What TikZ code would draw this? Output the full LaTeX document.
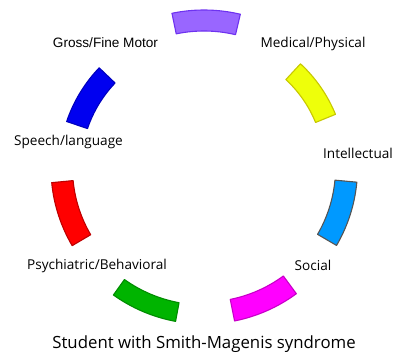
\documentclass[tikz,border=0pt]{standalone}
\usepackage{fontspec}
\setmainfont{Open Sans}
\newfontfamily\arialfont{Liberation Sans}
\usepackage{tikz}
\usetikzlibrary{positioning}
\usepackage{xcolor}
\definecolor{segPurple}{RGB}{153, 102, 255}
\definecolor{segPurpleD}{RGB}{110, 50, 240}
\definecolor{segYellow}{RGB}{238, 255, 10}
\definecolor{segYellowD}{RGB}{200, 200, 0}
\definecolor{segSky}{RGB}{0, 153, 255}
\definecolor{segSkyD}{RGB}{85, 85, 85}
\definecolor{segMagenta}{RGB}{255, 0, 255}
\definecolor{segMagentaD}{RGB}{200, 0, 200}
\definecolor{segGreen}{RGB}{0, 180, 0}
\definecolor{segGreenD}{RGB}{0, 140, 0}
\definecolor{segRed}{RGB}{255, 0, 0}
\definecolor{segRedD}{RGB}{190, 0, 0}
\definecolor{segBlue}{RGB}{0, 0, 240}
\definecolor{segBlueD}{RGB}{0, 0, 190}

\begin{document}
\begin{tikzpicture}[x=1pt, y=1pt,
          seg/.style={line width=1.1pt, line join=round},
          lbl/.style={font=\fontsize{13.6}{15}\selectfont, text=black},
          ttl/.style={font=\fontsize{16.8}{19}\selectfont, text=black}]
        \useasboundingbox (0,0) rectangle (399,355);
        % ring pieces: middle angle / inner radius / outer radius / colours
        \begin{scope}[shift={(204,187)}]
          \foreach \ang/\rin/\rout/\fc/\dc in {
              89.2/137/158/segPurple/segPurpleD,
              34.7/120.5/142/segYellow/segYellowD,
              -17.8/131.5/153.5/segSky/segSkyD,
              -66.2/134/156/segMagenta/segMagentaD,
              -113/137/156/segGreen/segGreenD,
              -162/131.5/153/segRed/segRedD,
              148.8/123/145/segBlue/segBlueD}
            \draw[seg, fill=\fc, draw=\dc]
              (\ang-12.5:\rin) arc[start angle=\ang-12.5, end angle=\ang+12.5, radius=\rin]
              -- (\ang+12.5:\rout) arc[start angle=\ang+12.5, end angle=\ang-12.5, radius=\rout]
              -- cycle;
        \end{scope}
        \node[lbl, font=\arialfont\fontsize{13.6}{15}\selectfont] (motor) at (105.5,312) {Gross/Fine Motor};
        \node[lbl] (medical)  at (313,311)   {Medical/Physical};
        \node[lbl] (speech)   at (68.5,213)  {Speech/language};
        \node[lbl] (intel)    at (358,202)   {Intellectual};
        \node[lbl] (psych)    at (97,89)     {Psychiatric/Behavioral};
        \node[lbl] (social)   at (313,90)    {Social};
        \node[ttl] (student)  at (204,11)    {Student with Smith-Magenis syndrome};
      \end{tikzpicture}
\end{document}
